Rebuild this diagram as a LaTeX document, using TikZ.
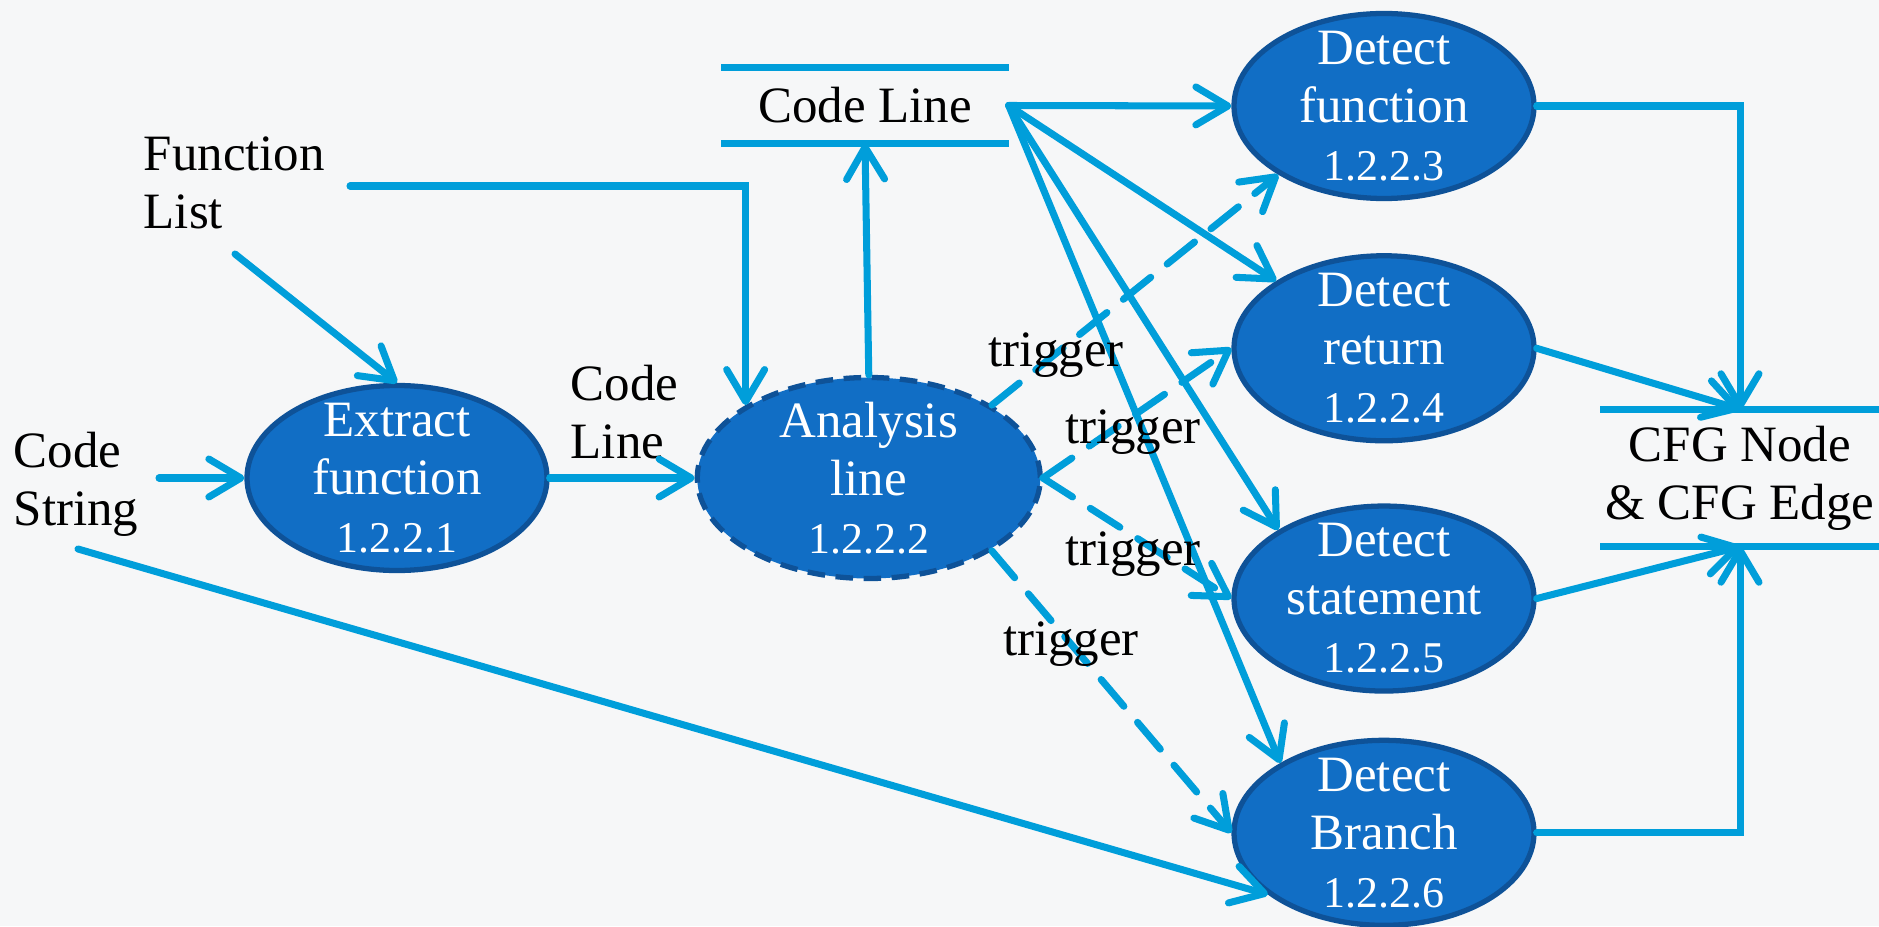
\documentclass[tikz,border=0pt]{standalone}
\usepackage{fontspec}
\setmainfont{Liberation Serif}
\usetikzlibrary{shapes,arrows.meta,positioning,calc}
\definecolor{DFDBlue}{RGB}{17,110,197}
\definecolor{DFDEdge}{RGB}{14,82,152}
\definecolor{DFDLine}{RGB}{0,158,218}
\definecolor{DFDPaper}{RGB}{246,247,248}
\newcommand{\pnum}[1]{{\fontsize{12.5}{16.5}\selectfont #1}}

\begin{document}
\begin{tikzpicture}[
        font=\fontsize{14.5}{16.5}\selectfont,
        process/.style={ellipse, draw=DFDEdge, line width=1.5pt, fill=DFDBlue, text=white,
                        minimum width=3.0cm, minimum height=1.85cm, inner xsep=0pt, inner ysep=-4pt, align=center},
        store/.style={minimum width=2.86cm, minimum height=0.75cm, inner sep=0pt, align=center},
        plain/.style={inner sep=0pt, align=left},
        arrow/.style={draw, -{Straight Barb[length=3.2mm,width=3.8mm,round]}, line width=2pt, line cap=round, DFDLine},
        trig/.style={arrow, dash pattern=on 10pt off 6pt},
        storeline/.style={draw, line width=2pt, DFDLine}
    ]
    \fill[DFDPaper] (0,0) rectangle (18.79,9.26);
    \useasboundingbox (0,0) rectangle (18.79,9.26);

    % processes
    \node[process] (ext) at (3.97,4.48) {Extract\\function\\\pnum{1.2.2.1}};
    \node[process, right=1.45cm of ext, minimum width=3.43cm, minimum height=2.01cm,
          dash pattern=on 5pt off 3pt] (ana) {Analysis\\line\\\pnum{1.2.2.2}};
    \node[process] (dfun) at (13.84,8.20) {Detect\\function\\\pnum{1.2.2.3}};
    \node[process, below=0.52cm of dfun] (dret) {Detect\\return\\\pnum{1.2.2.4}};
    \node[process, below=0.60cm of dret] (dsta) {Detect\\statement\\\pnum{1.2.2.5}};
    \node[process, below=0.44cm of dsta] (dbra) {Detect\\Branch\\\pnum{1.2.2.6}};

    % data stores
    \node[store] (cl) at (8.65,8.205) {Code Line};
    \node[store, minimum width=2.78cm, minimum height=1.36cm] (cfg) at (17.40,4.48) {CFG Node\\\& CFG Edge};
    \path[storeline] (cl.north west) -- (cl.north east) (cl.south west) -- (cl.south east);
    \path[storeline] (cfg.north west) -- (cfg.north east) (cfg.south west) -- (cfg.south east);

    % external inputs
    \node[plain, anchor=west] (flist) at (1.43,7.43) {Function\\List};
    \node[plain, anchor=west] (cstr) at (0.13,4.42) {Code\\String};
    \node[plain, anchor=west] (clab) at (5.70,5.14) {Code\\Line};
    \coordinate (fl-out) at (3.50,7.40);
    \coordinate (fl-in) at (2.35,6.72);
    \coordinate (cs-in) at (1.59,4.48);
    \coordinate (cs-low) at (0.78,3.77);

    \path[arrow] (cs-in)    -- (ext.west);
    \path[arrow] (fl-in)    -- (ext.north);
    \path[arrow] (fl-out)   -| (ana.north west);
    \path[arrow] (ext.east) -- (ana.west);
    \path[arrow] (ana.north) -- (cl.south);
    \path[arrow] (cl.east)  -- (dfun.west);
    \path[arrow] (cl.east)  -- (dret.148);
    \path[arrow] (cl.east)  -- (dsta.147);
    \path[arrow] (cl.east)  -- (dbra.146);
    \path[arrow] (cs-low)   -- (dbra.208);

    % triggers
    \path[trig] (ana.north east) -- (dfun.213);
    \path[trig] (ana.east)       -- (dret.west);
    \path[trig] (ana.east)       -- (dsta.west);
    \path[trig] (ana.south east) -- (dbra.west);
    \node[anchor=base, inner sep=0pt] (t1) at (10.56,5.59) {trigger};
    \node[anchor=base, inner sep=0pt] (t2) at (11.33,4.82) {trigger};
    \node[anchor=base, inner sep=0pt] (t3) at (11.33,3.61) {trigger};
    \node[anchor=base, inner sep=0pt] (t4) at (10.71,2.71) {trigger};

    % outputs
    \path[arrow] (dfun.east) -| (cfg.north);
    \path[arrow] (dret.east) -- (cfg.north);
    \path[arrow] (dsta.east) -- (cfg.south);
    \path[arrow] (dbra.east) -| (cfg.south);
\end{tikzpicture}
\end{document}
